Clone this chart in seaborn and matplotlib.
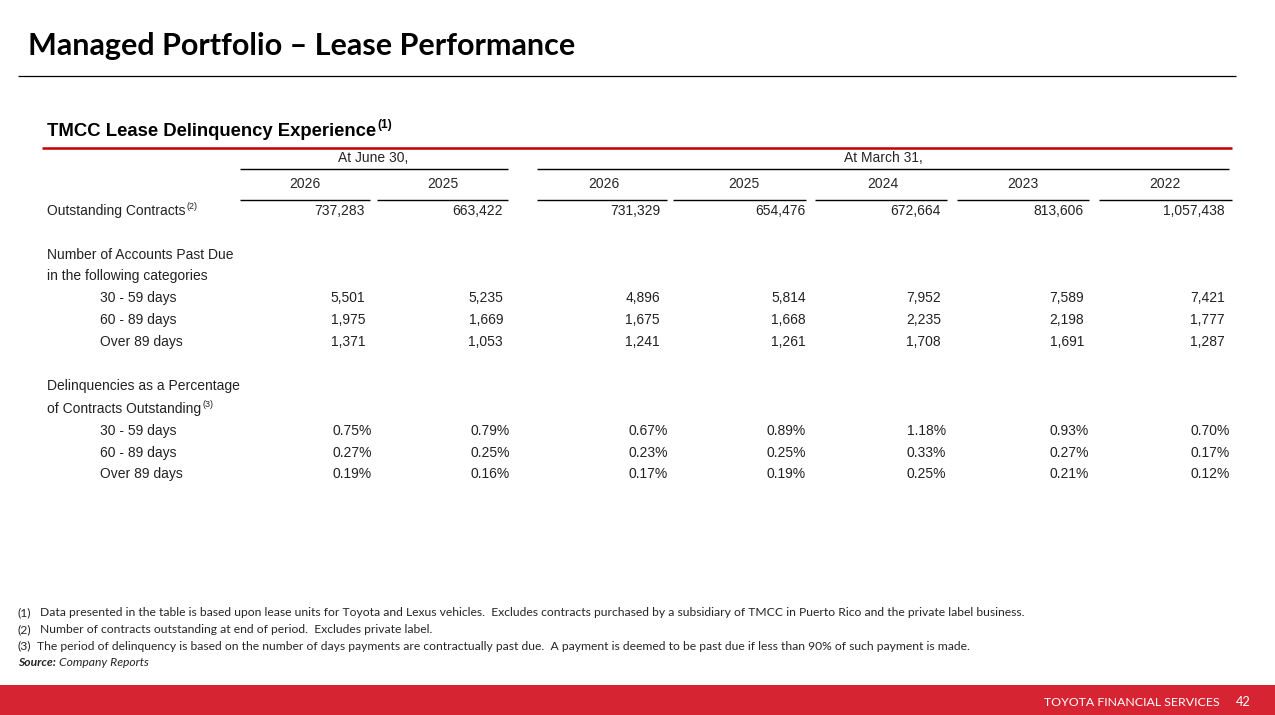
import matplotlib
matplotlib.use("Agg")
import matplotlib.pyplot as plt
import seaborn as sns
from matplotlib.patches import Rectangle

# ── data ──────────────────────────────────────────────────────────────────
title = "Managed Portfolio \u2013 Lease Performance"
subtitle = "TMCC Lease Delinquency Experience"
group_labels = ["At June 30,", "At March 31,"]
years = ["2026", "2025", "2026", "2025", "2024", "2023", "2022"]
outstanding = [737283, 663422, 731329, 654476, 672664, 813606, 1057438]
past_due_30_59 = [5501, 5235, 4896, 5814, 7952, 7589, 7421]
past_due_60_89 = [1975, 1669, 1675, 1668, 2235, 2198, 1777]
past_due_over_89 = [1371, 1053, 1241, 1261, 1708, 1691, 1287]
pct_30_59 = [0.75, 0.79, 0.67, 0.89, 1.18, 0.93, 0.70]
pct_60_89 = [0.27, 0.25, 0.23, 0.25, 0.33, 0.27, 0.17]
pct_over_89 = [0.19, 0.16, 0.17, 0.19, 0.25, 0.21, 0.12]
bucket_labels = ["30 - 59 days", "60 - 89 days", "Over 89 days"]
footnotes = [
    ("(1)", "Data presented in the table is based upon lease units for Toyota and Lexus vehicles.  "
            "Excludes contracts purchased by a subsidiary of TMCC in Puerto Rico and the private label business."),
    ("(2)", "Number of contracts outstanding at end of period.  Excludes private label."),
    ("(3)", "The period of delinquency is based on the number of days payments are contractually past due.  "
            "A payment is deemed to be past due if less than 90% of such payment is made."),
]

# ── layout (pixels) ───────────────────────────────────────────────────────
W, H = 1275, 715
RED = "#C00000"
BAR_RED = "#D72433"
col_center = [305, 443, 604, 744, 883, 1023, 1165]
col_seg = [(240, 370), (377, 508), (537, 667), (673, 806), (815, 947), (957, 1089), (1099, 1232)]
num_right = [365, 503, 660, 806, 941, 1084, 1225]
pct_right = [372, 510, 668, 806, 946, 1089, 1230]
TS = 10  # table font size

sns.set_theme(style="white")
plt.rcParams["font.family"] = ["Liberation Sans", "DejaVu Sans"]

fig = plt.figure(figsize=(W / 100, H / 100), dpi=100)
ax = fig.add_axes([0, 0, 1, 1])
ax.set_xlim(0, W)
ax.set_ylim(H, 0)
ax.axis("off")
renderer = fig.canvas.get_renderer()


def sup_text(x, y, main, sup, size, **kw):
    t = ax.text(x, y, main, fontsize=size, va="center", ha="left", **kw)
    bb = t.get_window_extent(renderer=renderer)
    ax.text(bb.x1 + 1, y - size * 0.45, sup, fontsize=size * 0.65, va="center", ha="left", **kw)


# title
ax.text(28, 46, title, fontsize=22, fontweight="bold", family=["Lato", "DejaVu Sans"],
        va="center", ha="left", color="black")
ax.hlines(76, 18, 1236, color="black", lw=0.9)

# subtitle
sup_text(47, 131, subtitle, "(1)", 13.3, fontweight="bold", color="black")
ax.hlines(148, 42, 1232, color=RED, lw=1.8)

# group headers
ax.text(373, 158, group_labels[0], fontsize=TS, ha="center", va="center")
ax.text(883, 158, group_labels[1], fontsize=TS, ha="center", va="center")
ax.hlines(169, 240, 508, color="black", lw=1)
ax.hlines(169, 537, 1229, color="black", lw=1)

# years
for x, yr in zip(col_center, years):
    ax.text(x, 184, yr, fontsize=TS, ha="center", va="center")
for x0, x1 in col_seg:
    ax.hlines(200, x0, x1, color="black", lw=1)

# outstanding contracts
sup_text(47, 211, "Outstanding Contracts", "(2)", TS, color="#222222")
for x, v in zip(num_right, outstanding):
    ax.text(x, 211, f"{v:,}", fontsize=TS, ha="right", va="center", color="#222222")

# accounts past due
ax.text(47, 255, "Number of Accounts Past Due", fontsize=TS, va="center", color="#222222")
ax.text(47, 276, "in the following categories", fontsize=TS, va="center", color="#222222")
for y, lab, row in zip([298, 320, 342], bucket_labels,
                       [past_due_30_59, past_due_60_89, past_due_over_89]):
    ax.text(100, y, lab, fontsize=TS, va="center", color="#222222")
    for x, v in zip(num_right, row):
        ax.text(x, y, f"{v:,}", fontsize=TS, ha="right", va="center", color="#222222")

# delinquency percentages
ax.text(47, 386, "Delinquencies as a Percentage", fontsize=TS, va="center", color="#222222")
sup_text(47, 409, "of Contracts Outstanding", "(3)", TS, color="#222222")
for y, lab, row in zip([431, 453, 474], bucket_labels, [pct_30_59, pct_60_89, pct_over_89]):
    ax.text(100, y, lab, fontsize=TS, va="center", color="#222222")
    for x, v in zip(pct_right, row):
        ax.text(x, y, f"{v:.2f}%", fontsize=TS, ha="right", va="center", color="#222222")

# footnotes
foot_font = ["Lato", "DejaVu Sans"]
FS = 8.7
for i, (mark, txt) in enumerate(footnotes):
    y = 613 + i * 16.5
    ax.text(18, y, mark, fontsize=FS, family=foot_font, va="center")
    ax.text(40 if i < 2 else 37, y, txt, fontsize=FS, family=foot_font, va="center")
src = ax.text(18, 662, "Source:", fontsize=FS, family=foot_font, fontweight="bold",
              style="italic", va="center")
sb = src.get_window_extent(renderer=renderer)
ax.text(sb.x1 + 3, 662, "Company Reports", fontsize=FS, family=foot_font, style="italic", va="center")

# footer bar
ax.add_patch(Rectangle((0, 685), W, 30, color=BAR_RED, lw=0))
ax.text(1220, 703, "TOYOTA FINANCIAL SERVICES", fontsize=8.9, family=foot_font, color="white",
        ha="right", va="center")
ax.text(1243, 702, "42", fontsize=9.2, family=foot_font, color="white", ha="center", va="center")

fig.savefig("out.png", dpi=100)
